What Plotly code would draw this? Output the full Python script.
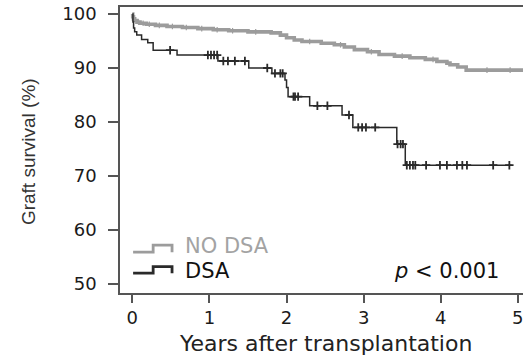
import plotly.graph_objects as go

# Kaplan-Meier step data: years after transplantation vs graft survival (%)
no_dsa_t = [0, 0.005, 0.015, 0.03, 0.06, 0.10, 0.18, 0.30, 0.45, 0.65, 0.85, 1.05,
            1.25, 1.50, 1.80, 1.92, 2.00, 2.10, 2.20, 2.45, 2.62, 2.75, 2.88, 3.05,
            3.20, 3.40, 3.60, 3.80, 3.95, 4.08, 4.12, 4.22, 4.33, 5.10]
no_dsa_s = [100, 99.5, 99.1, 98.8, 98.5, 98.3, 98.1, 97.9, 97.7, 97.5, 97.3, 97.1,
            96.9, 96.7, 96.5, 96.1, 95.6, 95.2, 94.9, 94.6, 94.3, 93.9, 93.4, 93.0,
            92.5, 92.2, 91.9, 91.6, 91.2, 90.9, 90.6, 90.2, 89.6, 89.6]
no_dsa_censor = [0.08, 0.14, 0.22, 0.35, 0.52, 0.70, 0.90, 1.10, 1.30, 1.60,
                 2.30, 2.70, 3.10, 3.50, 3.90, 4.60, 4.90]

dsa_t = [0, 0.008, 0.016, 0.03, 0.057, 0.12, 0.20, 0.27, 0.58, 1.11, 1.51, 1.81,
         1.98, 2.00, 2.02, 2.30, 2.72, 2.86, 3.43, 3.54, 4.92]
dsa_s = [100, 98.5, 97.4, 96.7, 96.1, 95.3, 94.7, 93.3, 92.4, 91.3, 90.0, 89.0,
         87.8, 86.4, 84.7, 83.0, 81.3, 79.0, 75.9, 72.0, 72.0]
dsa_censor = [0.49, 0.98, 1.02, 1.06, 1.10, 1.18, 1.24, 1.33, 1.46, 1.75, 1.85,
              1.92, 1.95, 2.09, 2.11, 2.15, 2.40, 2.53, 2.81, 2.93, 2.98, 3.03,
              3.15, 3.44, 3.48, 3.51, 3.56, 3.60, 3.64, 3.67, 3.81, 3.99, 4.08,
              4.21, 4.28, 4.34, 4.68, 4.89]

x_ticks = [0, 1, 2, 3, 4, 5]
y_ticks = [50, 60, 70, 80, 90, 100]

GRAY = "#9c9c9c"
DARK = "#2a2a2a"
AXIS = "#555555"


def surv_at(times, surv, t):
    """Value of a right-continuous step function at time t."""
    v = surv[0]
    for ti, si in zip(times, surv):
        if ti <= t:
            v = si
        else:
            break
    return v


fig = go.Figure()

fig.add_trace(go.Scatter(x=no_dsa_t, y=no_dsa_s, mode="lines",
                         line=dict(color=GRAY, width=3.6, shape="hv"),
                         hoverinfo="skip"))
fig.add_trace(go.Scatter(x=no_dsa_censor,
                         y=[surv_at(no_dsa_t, no_dsa_s, t) for t in no_dsa_censor],
                         mode="markers",
                         marker=dict(symbol="line-ns", size=4,
                                     line=dict(color=GRAY, width=1.2)),
                         hoverinfo="skip"))
fig.add_trace(go.Scatter(x=dsa_t, y=dsa_s, mode="lines",
                         line=dict(color=DARK, width=1.5, shape="hv"),
                         hoverinfo="skip"))
fig.add_trace(go.Scatter(x=dsa_censor,
                         y=[surv_at(dsa_t, dsa_s, t) for t in dsa_censor],
                         mode="markers",
                         marker=dict(symbol="cross-thin", size=6,
                                     line=dict(color=DARK, width=1.8)),
                         hoverinfo="skip"))

# hand-drawn legend keys (step-shaped)
def step_key(y_low, y_high, color):
    return dict(type="path", xref="x", yref="y",
                path=f"M 0.01 {y_low} L 0.27 {y_low} L 0.27 {y_high} "
                     f"L 0.515 {y_high} L 0.515 {y_low}",
                line=dict(color=color, width=2.8))

shapes = [step_key(55.9, 57.2, GRAY), step_key(52.0, 53.2, DARK)]

LEG_FONT = dict(family="DejaVu Sans", size=21)

annotations = [
    dict(x=0.66, y=56.95, xref="x", yref="y", text="NO DSA", showarrow=False,
         xanchor="left", yanchor="middle",
         font=dict(**LEG_FONT, color="#a3a3a3")),
    dict(x=0.66, y=52.4, xref="x", yref="y", text="DSA", showarrow=False,
         xanchor="left", yanchor="middle",
         font=dict(**LEG_FONT, color="#111111")),
    dict(x=4.78, y=52.4, xref="x", yref="y", text="<i>p</i> &lt; 0.001",
         showarrow=False, xanchor="right", yanchor="middle",
         font=dict(**LEG_FONT, color="#111111")),
    dict(x=0.511, y=-0.175, xref="paper", yref="paper",
         text="Years after transplantation", showarrow=False,
         xanchor="center", yanchor="middle",
         font=dict(family="DejaVu Sans", size=22, color="#222222")),
    dict(x=-0.228, y=0.493, xref="paper", yref="paper",
         text="Graft survival (%)", showarrow=False, textangle=-90,
         xanchor="center", yanchor="middle",
         font=dict(family="Liberation Sans", size=19, color="#333333")),
]

TICK_FONT = dict(family="DejaVu Sans", size=18, color="#1a1a1a")

fig.update_layout(
    width=523, height=355,
    margin=dict(l=120, r=0, t=7, b=62),
    paper_bgcolor="white", plot_bgcolor="white",
    showlegend=False,
    shapes=shapes,
    annotations=annotations,
    xaxis=dict(range=[-0.16, 5.067], tickvals=x_ticks,
               ticktext=[str(v) for v in x_ticks],
               showgrid=False, zeroline=False,
               showline=True, mirror=True, linecolor=AXIS, linewidth=1.5,
               ticks="outside", ticklen=8, tickwidth=1.5, tickcolor=AXIS,
               ticklabeloverflow="allow",
               tickfont=TICK_FONT),
    yaxis=dict(range=[48.33, 101.3], tickvals=y_ticks,
               ticktext=[str(v) for v in y_ticks],
               showgrid=False, zeroline=False,
               showline=True, linecolor=AXIS, linewidth=1.5,
               ticks="outside", ticklen=10, tickwidth=1.5, tickcolor=AXIS,
               ticklabelstandoff=8,
               tickfont=TICK_FONT),
)

fig.write_html("out.html")
